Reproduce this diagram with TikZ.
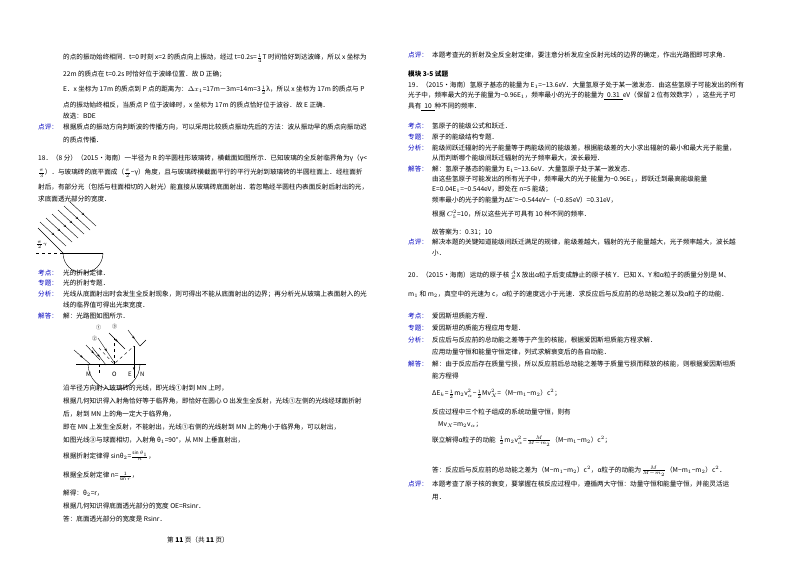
\documentclass[tikz,border=0pt]{standalone}
\usepackage{amsmath}
\usepackage{fontspec}
\setmainfont{Noto Sans CJK SC}
\usetikzlibrary{decorations.markings,arrows.meta}
\begin{document}
\begin{tikzpicture}[x=1pt,y=-1pt,
  t/.style={anchor=west,inner sep=0pt,font=\fontsize{6.6}{8}\selectfont},
  lab/.style={t,text=blue!75!black},
  ray/.style={line width=0.4pt,postaction={decorate},decoration={markings,mark=at position 0.55 with {\arrow{Stealth[length=3pt]}}}},
  fig/.style={line width=0.4pt}]
\useasboundingbox (0,0) rectangle (800,566);
\fill[white] (0,0) rectangle (800,566);
% left column
\node[t] (l1) at (63,58) {的点的振动始终相同．t=0 时刻 x=2 的质点向上振动，经过 t=0.2s=$\tfrac14$T 时间恰好到达波峰，所以 x 坐标为};
\node[t] (l2) at (63,74) {22m 的质点在 t=0.2s 时恰好位于波峰位置．故 D 正确；};
\node[t] (l3) at (63,90) {E．x 坐标为 17m 的质点到 P 点的距离为：$\Delta x_1$=17m－3m=14m=3$\tfrac12$λ，所以 x 坐标为 17m 的质点与 P};
\node[t] (l4) at (63,105) {点的振动始终相反，当质点 P 位于波峰时，x 坐标为 17m 的质点恰好位于波谷．故 E 正确．};
\node[t] (l5) at (63,116) {故选：BDE};
\node[lab] (p1) at (38,127) {点评：};
\node[t] (l6) at (63,127) {根据质点的振动方向判断波的传播方向，可以采用比较质点振动先后的方法：波从振动早的质点向振动迟};
\node[t] (l7) at (63,140) {的质点传播．};
\node[t] (q1) at (38,158) {18．（8 分）（2015•海南）一半径为 R 的半圆柱形玻璃砖，横截面如图所示．已知玻璃的全反射临界角为γ（γ<};
\node[t] (q2) at (38,173) {$\tfrac{\pi}{3}$）．与玻璃砖的底平面成（$\tfrac{\pi}{2}$−γ）角度，且与玻璃砖横截面平行的平行光射到玻璃砖的半圆柱面上．经柱面折};
\node[t] (q3) at (38,187) {射后，有部分光（包括与柱面相切的入射光）能直接从玻璃砖底面射出．若忽略经半圆柱内表面反射后射出的光，};
\node[t] (q4) at (38,199) {求底面透光部分的宽度．};
% figure 1
\draw[fig] (63,253) arc (180:0:20);
\draw[line width=0.9pt] (63,253) -- (103,253);
\draw[fig,dashed] (36,253) -- (63,253);
\foreach \i in {0,...,5} {
  \draw[ray] ({40+6*\i},{222-4*\i}) -- ++(26,24);
}
\draw[fig] (38,228) -- (63,253);
\node[t,font=\fontsize{4}{5}\selectfont] (ang) at (36,245) {$\frac{\pi}{2}$-γ};
% analysis
\node[lab] (k1) at (38,273) {考点：};
\node[t] (k2) at (63,273) {光的折射定律．};
\node[lab] (z1) at (38,283) {专题：};
\node[t] (z2) at (63,283) {光的折射专题．};
\node[lab] (f1) at (38,294) {分析：};
\node[t] (f2) at (63,294) {光线从底面射出时会发生全反射现象，则可得出不能从底面射出的边界；再分析光从玻璃上表面射入的光};
\node[t] (f3) at (63,305) {线的临界值可得出光束宽度．};
\node[lab] (j1) at (38,316) {解答：};
\node[t] (j2) at (63,316) {解：光路图如图所示．};
% figure 2
\draw[fig] (76,364) -- (146,364);
\draw[fig] (88,364) arc (180:0:26);
\draw[fig,dashed] (114,364) -- (114,338);
\draw[fig,dashed] (99,364) -- (99,376);
\draw[fig,dashed] (99,348) -- (114,364) -- (134,346);
\draw[ray] (98,338) -- (114,362);
\draw[ray] (92,347) -- (106,365);
\draw[ray] (74,350) -- (90,364);
\draw[ray] (86,345) -- (100,360);
\draw[ray] (109,333) -- (125,349);
\draw[ray] (128,330) -- (140,346);
\draw[fig] (134,346) -- (134,378);
\draw[-{Stealth[length=3pt]}] (134,360) -- (134,370);
\draw[fig] (140,346) -- (146,340);
\node[t,font=\fontsize{5}{6}\selectfont] (c1) at (96,328) {①};
\node[t,font=\fontsize{5}{6}\selectfont] (c2) at (92,339) {②};
\node[t,font=\fontsize{5}{6}\selectfont] (c3) at (112,327) {③};
\node[t,font=\itshape\fontsize{6}{7}\selectfont] (M) at (86,374) {M};
\node[t,font=\itshape\fontsize{6}{7}\selectfont] (O) at (112,374) {O};
\node[t,font=\itshape\fontsize{6}{7}\selectfont] (E) at (128,374) {E};
\node[t,font=\itshape\fontsize{6}{7}\selectfont] (N) at (140,374) {N};
% text after figure
\node[t] (s1) at (63,388) {沿半径方向射入玻璃砖的光线，即光线①射到 MN 上时，};
\node[t] (s2) at (63,401) {根据几何知识得入射角恰好等于临界角，即恰好在圆心 O 出发生全反射，光线①左侧的光线经球面折射};
\node[t] (s3) at (63,414) {后，射到 MN 上的角一定大于临界角，};
\node[t] (s4) at (63,427) {即在 MN 上发生全反射，不能射出，光线①右侧的光线射到 MN 上的角小于临界角，可以射出，};
\node[t] (s5) at (63,440) {如图光线③与球面相切，入射角 θ$_1$=90°，从 MN 上垂直射出，};
\node[t] (s6) at (63,456) {根据折射定律得 sinθ$_2$=$\frac{\sin\theta_1}{n}$，};
\node[t] (s7) at (63,476) {根据全反射定律 n=$\frac{1}{\sin r}$，};
\node[t] (s8) at (63,493) {解得：θ$_2$=r，};
\node[t] (s9) at (63,506) {根据几何知识得底面透光部分的宽度 OE=Rsinr．};
\node[t] (s10) at (63,519) {答：底面透光部分的宽度是 Rsinr．};
\node[t,anchor=center] (pg) at (198,540) {第 \textbf{11} 页（共 \textbf{11} 页）};
% right column
\node[lab] (rp) at (408,55) {点评：};
\node[t] (r1) at (432,55) {本题考查光的折射及全反全射定律，要注意分析发应全反射光线的边界的确定，作出光路图即可求角．};
\node[t,font=\bfseries\fontsize{6.6}{8}\selectfont] (mk) at (408,74) {模块 3-5 试题};
\node[t] (r2) at (408,85) {19．（2015•海南）氢原子基态的能量为 E$_1$=−13.6eV．大量氢原子处于某一激发态．由这些氢原子可能发出的所有};
\node[t] (r3) at (408,96) {光子中，频率最大的光子能量为−0.96E$_1$，频率最小的光子的能量为\underline{\ \ 0.31\ \ }eV（保留 2 位有效数字），这些光子可};
\node[t] (r4) at (408,107) {具有\underline{\ \ 10\ \ }种不同的频率．};
\node[lab] (rk) at (408,126) {考点：};
\node[t] (r5) at (432,126) {氢原子的能级公式和跃迁．};
\node[lab] (rz) at (408,137) {专题：};
\node[t] (r6) at (432,137) {原子的能级结构专题．};
\node[lab] (rf) at (408,148) {分析：};
\node[t] (r7) at (432,148) {能级间跃迁辐射的光子能量等于两能级间的能级差，根据能级差的大小求出辐射的最小和最大光子能量，};
\node[t] (r8) at (432,158) {从而判断哪个能级间跃迁辐射的光子频率最大，波长最短．};
\node[lab] (rj) at (408,169) {解答：};
\node[t] (r9) at (432,169) {解：氢原子基态的能量为 E$_1$=−13.6eV．大量氢原子处于某一激发态．};
\node[t] (r10) at (432,179) {由这些氢原子可能发出的所有光子中，频率最大的光子能量为−0.96E$_1$，即跃迁到最高能级能量};
\node[t] (r11) at (432,189) {E=0.04E$_1$=−0.544eV，即处在 n=5 能级；};
\node[t] (r12) at (432,200) {频率最小的光子的能量为ΔE′=−0.544eV−（−0.85eV）=0.31eV，};
\node[t] (r13) at (432,214) {根据 $C_5^2$=10，所以这些光子可具有 10 种不同的频率．};
\node[t] (r14) at (432,232) {故答案为：0.31；10};
\node[lab] (rp2) at (408,242) {点评：};
\node[t] (r15) at (432,242) {解决本题的关键知道能级间跃迁满足的规律，能级差越大，辐射的光子能量越大，光子频率越大，波长越};
\node[t] (r16) at (432,253) {小．};
\node[t] (r17) at (408,275) {20．（2015•海南）运动的原子核 ${}^{A}_{Z}$X 放出α粒子后变成静止的原子核 Y．已知 X、Y 和α粒子的质量分别是 M、};
\node[t] (r18) at (408,294) {m$_1$ 和 m$_2$，真空中的光速为 c，α粒子的速度远小于光速．求反应后与反应前的总动能之差以及α粒子的动能．};
\node[lab] (rk2) at (408,316) {考点：};
\node[t] (r19) at (432,316) {爱因斯坦质能方程．};
\node[lab] (rz2) at (408,328) {专题：};
\node[t] (r20) at (432,328) {爱因斯坦的质能方程应用专题．};
\node[lab] (rf2) at (408,340) {分析：};
\node[t] (r21) at (432,340) {反应后与反应前的总动能之差等于产生的核能，根据爱因斯坦质能方程求解．};
\node[t] (r22) at (432,352) {应用动量守恒和能量守恒定律，列式求解衰变后的各自动能．};
\node[lab] (rj2) at (408,364) {解答：};
\node[t] (r23) at (432,364) {解：由于反应后存在质量亏损，所以反应前后总动能之差等于质量亏损而释放的核能，则根据爱因斯坦质};
\node[t] (r24) at (432,376) {能方程得};
\node[t] (r25) at (432,394) {ΔE$_k$=$\frac12$m$_2$v$_\alpha^2$−$\frac12$Mv$_X^2$=（M−m$_1$−m$_2$）c$^2$；};
\node[t] (r26) at (432,412) {反应过程中三个粒子组成的系统动量守恒，则有};
\node[t] (r27) at (438,425) {Mv$_X$=m$_2$v$_\alpha$；};
\node[t] (r28) at (432,441) {联立解得α粒子的动能\ \ $\frac12$m$_2$v$_\alpha^2$=$\frac{M}{M-m_2}$（M−m$_1$−m$_2$）c$^2$；};
\node[t] (r29) at (432,471) {答：反应后与反应前的总动能之差为（M−m$_1$−m$_2$）c$^2$，α粒子的动能为$\frac{M}{M-m_2}$（M−m$_1$−m$_2$）c$^2$．};
\node[lab] (rp3) at (408,484) {点评：};
\node[t] (r30) at (432,484) {本题考查了原子核的衰变，要掌握在核反应过程中，遵循两大守恒：动量守恒和能量守恒，并能灵活运};
\node[t] (r31) at (432,497) {用．};
\end{tikzpicture}
\end{document}
